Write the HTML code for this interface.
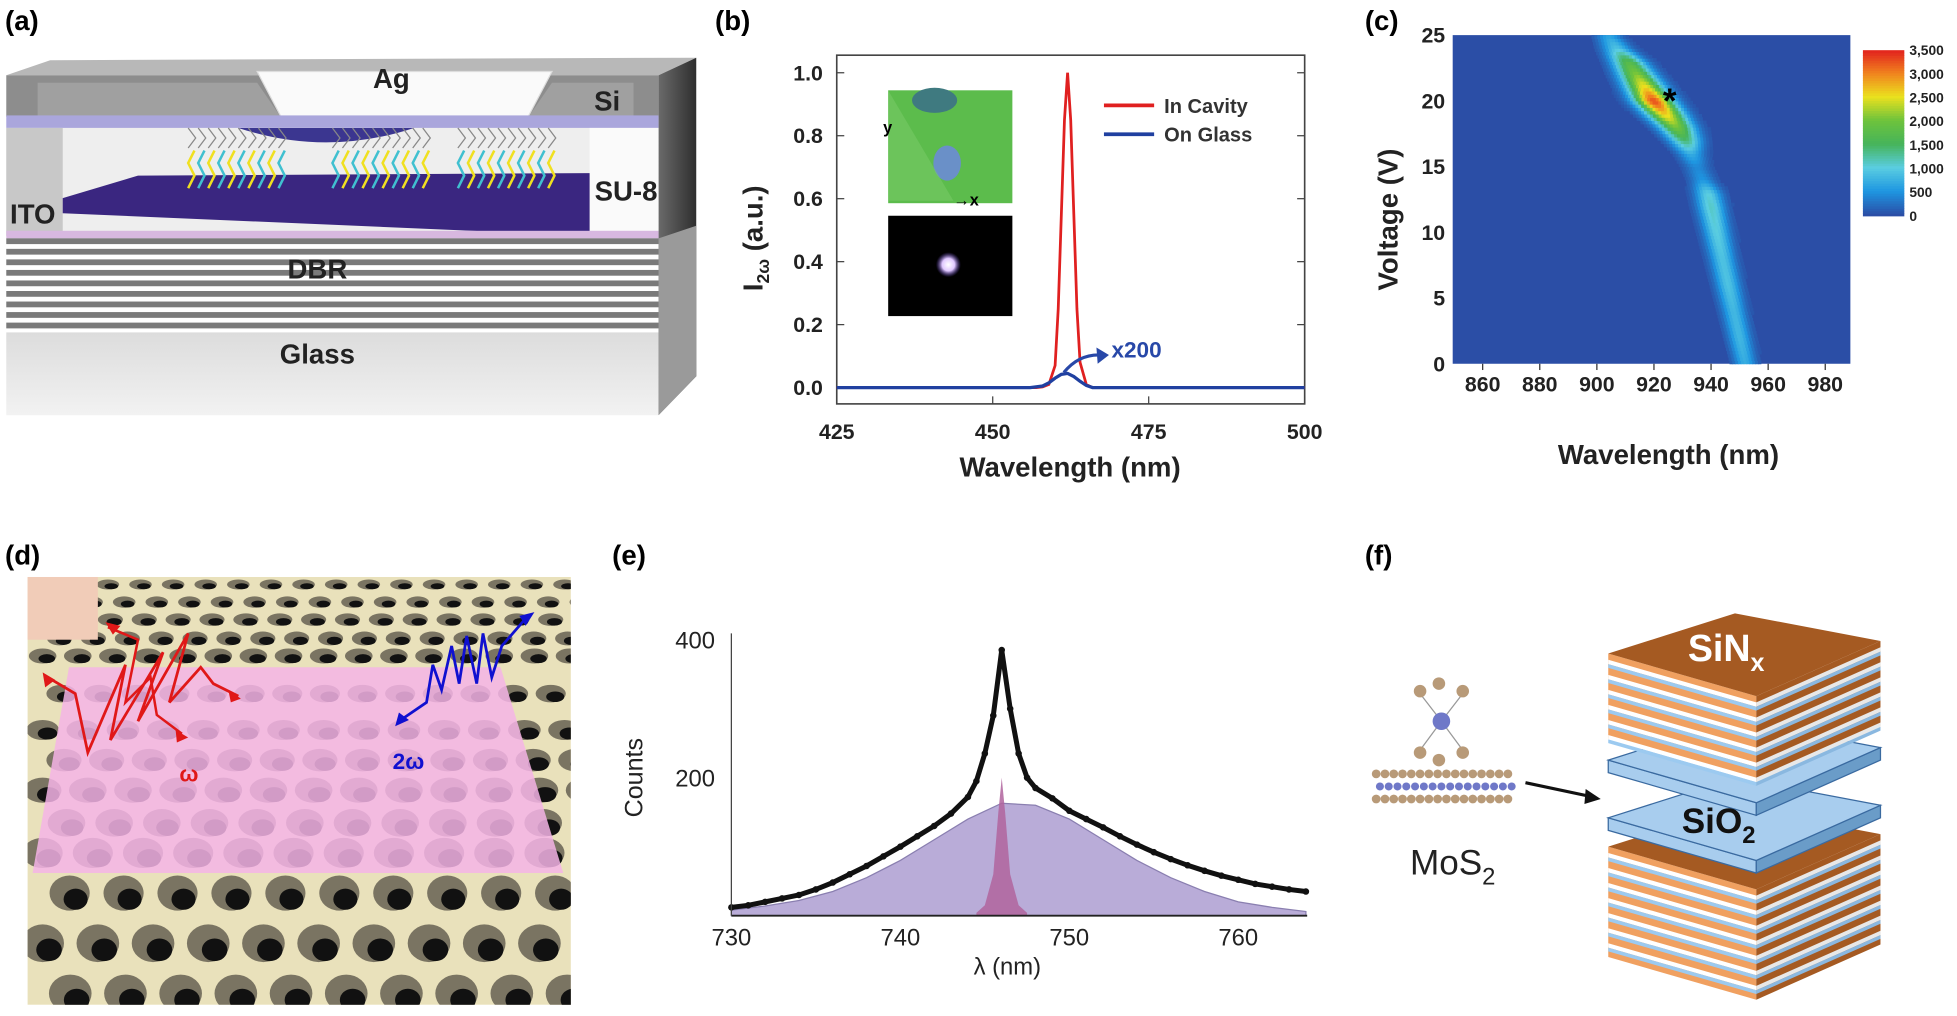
<!DOCTYPE html>
<html><head><meta charset="utf-8"><style>
html,body{margin:0;padding:0;background:#fff;width:1957px;height:1016px;overflow:hidden}
svg{display:block}
text{font-family:"Liberation Sans",Arial,sans-serif}
.pl{font-size:22px;font-weight:bold}
.tk{font-size:17px;font-weight:bold;fill:#222}
.al{font-size:22px;font-weight:bold;fill:#222}
</style></head><body>
<svg id="fig" width="1957" height="1016" viewBox="0 0 1560 810" preserveAspectRatio="none" xmlns="http://www.w3.org/2000/svg">
<defs>
<linearGradient id="sideG" x1="0" x2="1"><stop offset="0" stop-color="#6a6a6a"/><stop offset="1" stop-color="#2e2e2e"/></linearGradient>
<linearGradient id="glassG" x1="0" x2="0" y1="0" y2="1"><stop offset="0" stop-color="#dcdcdc"/><stop offset="1" stop-color="#f2f2f2"/></linearGradient>
<radialGradient id="spot"><stop offset="0" stop-color="#fff"/><stop offset=".5" stop-color="#e0c8ff"/><stop offset="1" stop-color="#6040c0" stop-opacity="0"/></radialGradient>
<clipPath id="dclip"><rect x="22" y="460" width="433" height="341"/></clipPath>
</defs>

<text class="pl" x="4" y="24">(a)</text>
<text class="pl" x="570" y="24">(b)</text>
<text class="pl" x="1088" y="24">(c)</text>
<text class="pl" x="4" y="450">(d)</text>
<text class="pl" x="488" y="450">(e)</text>
<text class="pl" x="1088" y="450">(f)</text>

<!-- panel (a) -->
<g id="pa">
  <polygon points="5,60 40,48 555,46 525,60" fill="#b8b8b8"/>
  <rect x="5" y="60" width="520" height="33" fill="#8d8d8d"/>
  <polygon points="205,57 440,57 420,95 225,95" fill="#fafafa" stroke="#ddd"/>
  <polygon points="30,66 205,66 225,95 30,95" fill="#a0a0a0"/>
  <polygon points="440,66 505,66 505,95 420,95" fill="#a0a0a0"/>
  <rect x="5" y="92" width="520" height="10" fill="#aaa6dc"/>
  <rect x="5" y="102" width="520" height="86" fill="#eeeeee"/>
  <rect x="5" y="102" width="45" height="86" fill="#c8c8c8"/>
  <rect x="470" y="102" width="55" height="86" fill="#fafafa"/>
  <path d="M190,102 Q260,125 330,102Z" fill="#3b3690"/>
  <polygon points="50,158 110,140 470,138 470,188 50,170" fill="#3a2680"/>
  <rect x="5" y="184" width="520" height="6" fill="#d8b8e0"/>
  <g id="dbr"></g>
  <rect x="5" y="265" width="520" height="66" fill="url(#glassG)"/>
  <polygon points="525,60 555,46 555,300 525,331" fill="url(#sideG)"/>
  <polygon points="525,190 555,180 555,300 525,331" fill="#9a9a9a"/>
  <g id="mol"></g>
  <text class="al" x="312" y="70" text-anchor="middle">Ag</text>
  <text class="al" x="484" y="88" text-anchor="middle">Si</text>
  <text class="al" x="474" y="160">SU-8</text>
  <text class="al" x="8" y="178">ITO</text>
  <text class="al" x="253" y="222" text-anchor="middle">DBR</text>
  <text class="al" x="253" y="290" text-anchor="middle">Glass</text>
</g>

<!-- panel (b) -->
<g id="pb">
  <rect x="667" y="44" width="373" height="278" fill="none" stroke="#444" stroke-width="1.3"/>
  <g id="b-ticks"></g>
  <rect x="708" y="72" width="99" height="90" fill="#5cbc4c"/>
  <ellipse cx="745" cy="80" rx="18" ry="10" fill="#3f7a80"/>
  <ellipse cx="755" cy="130" rx="11" ry="14" fill="#6a90c8"/>
  <polygon points="708,72 760,160 708,160" fill="#7ccc6a" opacity=".5"/>
  <text x="704" y="106" font-size="13" font-weight="bold">y</text>
  <text x="760" y="164" font-size="13" font-weight="bold">→x</text>
  <rect x="708" y="172" width="99" height="80" fill="#000"/>
  <circle cx="756" cy="211" r="10" fill="url(#spot)"/>
  <g id="b-series"></g>
  <line x1="880" y1="84" x2="920" y2="84" stroke="#e02020" stroke-width="3"/>
  <text x="928" y="90" font-size="16" font-weight="bold" fill="#333">In Cavity</text>
  <line x1="880" y1="107" x2="920" y2="107" stroke="#2040a0" stroke-width="3"/>
  <text x="928" y="113" font-size="16" font-weight="bold" fill="#333">On Glass</text>
  <path d="M848,297 Q860,282 878,283" fill="none" stroke="#2848a8" stroke-width="2.5"/>
  <polygon points="884,283 874,277 875,290" fill="#2848a8"/>
  <text x="886" y="285" font-size="18" font-weight="bold" fill="#2848a8">x200</text>
  <text class="al" x="853" y="380" text-anchor="middle">Wavelength (nm)</text>
  <text class="al" transform="translate(608,190) rotate(-90)" text-anchor="middle">I<tspan font-size="14" dy="5">2ω</tspan><tspan dy="-5"> (a.u.)</tspan></text>
</g>

<!-- panel (c) -->
<g id="pc">
  <rect x="1158" y="28" width="317" height="262" fill="#2b4ea6"/>
  <g id="c-cells"></g>
  <text x="1331" y="90" font-size="28" font-weight="bold" text-anchor="middle">*</text>
  <g id="c-ticks"></g>
  <g id="c-bar"></g>
  <text class="al" x="1330" y="370" text-anchor="middle">Wavelength (nm)</text>
  <text class="al" transform="translate(1114,175) rotate(-90)" text-anchor="middle">Voltage (V)</text>
</g>

<!-- panel (d) -->
<g id="pd">
  <rect x="22" y="460" width="433" height="341" fill="#e9e1bb"/>
  <g id="holes" clip-path="url(#dclip)"></g>
  <polygon points="55,532 399,532 449,696 26,696" fill="#f4b4e6" opacity=".85"/>
  <rect x="22" y="460" width="56" height="50" fill="#f1ccb8"/>
  <polyline points="38,540 60,553 70,600 100,530 88,590 130,520 110,575 150,505 135,560 160,532 170,545 190,555" fill="none" stroke="#e01818" stroke-width="2.2"/>
  <polyline points="86,500 110,510 100,560 120,540 125,570 145,585" fill="none" stroke="#e01818" stroke-width="2"/>
  <polygon points="34,536 44,542 36,548" fill="#e01818"/><polygon points="84,496 96,499 90,506" fill="#e01818"/><polygon points="192,557 182,550 184,560" fill="#e01818"/><polygon points="150,588 140,582 141,592" fill="#e01818"/>
  <text x="143" y="623" font-size="18" font-weight="bold" fill="#e01818">ω</text>
  <polyline points="318,575 340,560 345,530 352,550 360,515 366,545 372,507 380,545 385,505 392,540 400,515 420,492" fill="none" stroke="#1010d0" stroke-width="2.2"/>
  <polygon points="315,579 318,568 326,574" fill="#1010d0"/><polygon points="426,488 414,491 419,499" fill="#1010d0"/>
  <text x="313" y="613" font-size="18" font-weight="bold" fill="#1010d0">2ω</text>
</g>

<!-- panel (e) -->
<g id="pe">
  <g id="e-series"></g>
  <g id="e-ticks"></g>
  <text x="803" y="777" font-size="19" text-anchor="middle" fill="#222">λ (nm)</text>
  <text transform="translate(512,620) rotate(-90)" font-size="20" text-anchor="middle" fill="#222">Counts</text>
</g>

<!-- panel (f) -->
<g id="pf">
  <g>
    <line x1="1149" y1="575" x2="1132" y2="553" stroke="#999"/><line x1="1149" y1="575" x2="1166" y2="553" stroke="#999"/>
    <line x1="1149" y1="575" x2="1132" y2="598" stroke="#999"/><line x1="1149" y1="575" x2="1166" y2="598" stroke="#999"/>
    <circle cx="1132" cy="551" r="5" fill="#b89a78"/><circle cx="1166" cy="551" r="5" fill="#b89a78"/><circle cx="1147" cy="545" r="5" fill="#b89a78"/>
    <circle cx="1132" cy="600" r="5" fill="#b89a78"/><circle cx="1166" cy="600" r="5" fill="#b89a78"/><circle cx="1147" cy="606" r="5" fill="#b89a78"/>
    <circle cx="1149" cy="575" r="7" fill="#6f78c8"/>
    <g id="mos2layer"></g>
  </g>
  <text x="1158" y="697" font-size="28" text-anchor="middle" fill="#222">MoS<tspan font-size="19" dy="8">2</tspan></text>
  <line x1="1216" y1="624" x2="1268" y2="635" stroke="#111" stroke-width="2.5"/>
  <polygon points="1276,637 1264,629 1263,641" fill="#111"/>
  <g id="stacks"></g>
  <text x="1376" y="527" font-size="30" font-weight="bold" fill="#fff" text-anchor="middle">SiN<tspan font-size="20" dy="8">x</tspan></text>
  <text x="1370" y="664" font-size="28" font-weight="bold" fill="#111" text-anchor="middle">SiO<tspan font-size="19" dy="8">2</tspan></text>
</g>
</svg>

<script>
// ---------- panel (b) data ----------
const bRedX=[425,457,458,459,460,460.5,461,461.5,462,462.5,463,463.5,464,465,466,500];
const bRedY=[0,0,0.002,0.01,0.07,0.25,0.55,0.85,1.0,0.85,0.55,0.25,0.08,0.01,0,0];
const bBlueX=[425,456,458,459,460,461,462,463,464,465,466,500];
const bBlueY=[0,0,0.005,0.015,0.03,0.042,0.045,0.035,0.02,0.007,0,0];
const bXTicks=[425,450,475,500];
const bYTicks=[0.0,0.2,0.4,0.6,0.8,1.0];

// ---------- panel (c) data ----------
const cVolt=[0,2,4,6,8,10,12,13,14,15,16,17,18,19,20,21,22,23,24,25];
const cCenter=[952,950,948,946,944,942,940,939,937,935,933,931,928,924,920,917,914,911,907,904];
const cPeak=[700,800,800,900,900,1000,1100,1000,500,400,700,1400,2000,2600,3300,2600,2100,1700,900,600];
const cSigma=[2.6,2.7,2.8,2.9,3,3.1,3.2,3.2,3,3,3.2,3.8,4.2,4.5,4.5,4.5,4.3,4,3.5,3];
const cXTicks=[860,880,900,920,940,960,980];
const cYTicks=[0,5,10,15,20,25];
const cBarTicks=["0","500","1,000","1,500","2,000","2,500","3,000","3,500"];

// ---------- panel (e) data ----------
const eX=[730,731,732,733,734,735,736,737,738,739,740,741,742,743,744,744.5,745,745.5,746,746.5,747,747.5,748,749,750,751,752,753,754,755,756,757,758,759,760,761,762,763,764];
const eY=[12,15,20,25,30,38,48,60,72,86,100,115,130,148,172,195,235,290,385,300,235,200,185,170,152,140,128,115,103,92,82,73,65,58,52,46,42,38,35];
const eBroadX=[730,732,734,736,738,740,742,744,746,748,750,752,754,756,758,760,762,764];
const eBroadY=[8,14,22,35,55,80,110,140,163,160,140,110,80,55,35,20,12,6];
const eNarrowX=[744.5,745,745.5,745.8,746,746.2,746.5,747,747.5];
const eNarrowY=[4,15,60,150,200,150,60,15,4];
const eXTicks=[730,740,750,760];
const eYTicks=[200,400];

const NS="http://www.w3.org/2000/svg";
function mk(tag,attrs,parent,txt){const e=document.createElementNS(NS,tag);for(const k in attrs)e.setAttribute(k,attrs[k]);if(txt!==undefined)e.textContent=txt;parent.appendChild(e);return e;}

// ----- panel (a) -----
(function(){
  const g=document.getElementById('dbr');
  for(let i=0;i<9;i++){
    const r=mk('rect',{x:5,y:190+i*8.4,width:520,height:4.6,fill:'#7a7a7a'},g);
    
    
  }
  const m=document.getElementById('mol');
  const groups=[[150,230],[265,345],[365,445]];
  groups.forEach(([a,b])=>{
    for(let x=a;x<b;x+=8){
      mk('polyline',{points:`${x},150 ${x+5},140 ${x},130 ${x+5},120`,fill:'none',stroke:(x/8)%2<1?'#f0e020':'#40c0d0','stroke-width':2},m);
      mk('polyline',{points:`${x},118 ${x+6},110 ${x},102`,fill:'none',stroke:'#888','stroke-width':1},m);
    }
  });
})();

// ----- panel (b) -----
(function(){
  const x0=667,x1=1040,y0=309,y1=58;
  const sx=v=>x0+(v-425)/(500-425)*(x1-x0);
  const sy=v=>y0+(v-0)/(1.0-0)*(y1-y0);
  const t=document.getElementById('b-ticks');
  bXTicks.forEach(v=>{
    const l=mk('line',{x1:sx(v),x2:sx(v),y1:322,y2:316,stroke:'#444'},t);
    
    
    const tx=mk('text',{x:sx(v),y:350,class:'tk','text-anchor':'middle'},t,String(v));
    
    
  });
  bYTicks.forEach(v=>{
    mk('line',{x1:667,x2:673,y1:sy(v),y2:sy(v),stroke:'#444'},t);
    mk('line',{x1:1040,x2:1034,y1:sy(v),y2:sy(v),stroke:'#444'},t);
    const tx=mk('text',{x:656,y:sy(v)+6,class:'tk','text-anchor':'end'},t,v.toFixed(1));
    
    
  });
  const s=document.getElementById('b-series');
  const red=mk('polyline',{points:bRedX.map((v,i)=>sx(v)+','+sy(bRedY[i])).join(' '),fill:'none',stroke:'#e02020','stroke-width':2.2},s);
  
  
  const blue=mk('polyline',{points:bBlueX.map((v,i)=>sx(v)+','+sy(bBlueY[i])).join(' '),fill:'none',stroke:'#2040a0','stroke-width':2.6},s);
  
  
})();

// ----- panel (c) -----
(function(){
  const x0=1158,x1=1475,y0=290,y1=28;
  const lmin=849.5,lmax=988.8;
  const sx=v=>x0+(v-lmin)/(lmax-lmin)*(x1-x0);
  const sy=v=>y0+(v-0)/(25-0)*(y1-y0);
  const stops=[[0,[43,78,166]],[500,[30,150,225]],[1000,[90,205,225]],[1500,[70,180,90]],[2000,[110,195,60]],[2500,[235,225,30]],[3000,[240,130,30]],[3500,[225,30,30]]];
  function col(v){v=Math.max(0,Math.min(3500,v));for(let i=1;i<stops.length;i++){if(v<=stops[i][0]){const a=stops[i-1],b=stops[i],f=(v-a[0])/(b[0]-a[0]);return 'rgb('+a[1].map((c,k)=>Math.round(c+(b[1][k]-c)*f)).join(',')+')';}}return 'rgb(225,30,30)';}
  function interp(arr,V){for(let i=1;i<cVolt.length;i++){if(V<=cVolt[i]){const f=(V-cVolt[i-1])/(cVolt[i]-cVolt[i-1]);return arr[i-1]+(arr[i]-arr[i-1])*f;}}return arr[arr.length-1];}
  const g=document.getElementById('c-cells');
  const dV=0.25,dL=1;
  for(let V=0;V<25;V+=dV){
    const vc=V+dV/2,c=interp(cCenter,vc),p=interp(cPeak,vc),s=interp(cSigma,vc);
    for(let L=c-4*s;L<c+4*s;L+=dL){
      const val=p*Math.exp(-0.5*Math.pow((L+dL/2-c)/s,2));
      if(val<60)continue;
      const r=mk('rect',{x:sx(L).toFixed(2),y:sy(V+dV).toFixed(2),width:(sx(L+dL)-sx(L)+0.4).toFixed(2),height:(sy(V)-sy(V+dV)+0.4).toFixed(2),fill:col(val)},g);
      
      
    }
  }
  const t=document.getElementById('c-ticks');
  cXTicks.forEach(v=>{
    mk('line',{x1:sx(v),x2:sx(v),y1:290,y2:295,stroke:'#333'},t);
    const tx=mk('text',{x:sx(v),y:312,class:'tk','text-anchor':'middle','font-size':15},t,String(v));
    
    
  });
  cYTicks.forEach(v=>{
    const tx=mk('text',{x:1152,y:sy(v)+6,class:'tk','text-anchor':'end'},t,String(v));
    
    
  });
  const b=document.getElementById('c-bar');
  const by0=172,by1=40;
  for(let i=0;i<66;i++){
    const v=i/66*3500;
    mk('rect',{x:1485,y:by0-(i+1)*(by0-by1)/66,width:33,height:(by0-by1)/66+0.5,fill:col(v)},b);
  }
  cBarTicks.forEach((s,i)=>{
    const y=by0-i*(by0-by1)/7;
    const tx=mk('text',{x:1522,y:y+4,'font-size':11,'font-weight':'bold',fill:'#222'},b,s);
    
    
  });
})();

// ----- panel (d) holes -----
(function(){
  const g=document.getElementById('holes');
  const rows=[[466,9,4,26],[480,9,4.5,26],[494,10,5,27],[509,10,5.5,27],[523,11,6,28],[553,12,7,30],[582,13,8,32],[606,14,9,34],[630,15,10,36],[656,15,11,38],[680,16,12,40],[712,16,14,43],[752,17,15,44],[792,17,15,44]];
  rows.forEach(([y,rx,ry,sp],j)=>{
    for(let x=34+(j%2)*sp/2;x<470;x+=sp){
      mk('ellipse',{cx:x,cy:y,rx:rx,ry:ry,fill:'#7a7462'},g);
      mk('ellipse',{cx:x+rx*0.3,cy:y+ry*0.35,rx:rx*0.6,ry:ry*0.6,fill:'#111'},g);
    }
  });
})();

// ----- panel (e) -----
(function(){
  const x0=583,y0=730;
  const sx=v=>x0+(v-730)*13.47;
  const sy=v=>y0-v*0.55;
  const s=document.getElementById('e-series');
  const area=(X,Y)=>'M'+sx(X[0])+','+y0+' '+X.map((v,i)=>'L'+sx(v)+','+sy(Y[i])).join(' ')+' L'+sx(X[X.length-1])+','+y0+'Z';
  const br=mk('path',{d:area(eBroadX,eBroadY),fill:'#b9acd8',stroke:'#8a7fb0','stroke-width':1},s);
  
  
  const nr=mk('path',{d:area(eNarrowX,eNarrowY),fill:'#b0649e',opacity:.85},s);
  
  
  const ln=mk('polyline',{points:eX.map((v,i)=>sx(v)+','+sy(eY[i])).join(' '),fill:'none',stroke:'#111','stroke-width':4},s);
  
  
  eX.forEach((v,i)=>{
    const c=mk('circle',{cx:sx(v),cy:sy(eY[i]),r:2.6,fill:'#111'},s);
    
    
  });
  const t=document.getElementById('e-ticks');
  mk('line',{x1:583,x2:1042,y1:730,y2:730,stroke:'#222','stroke-width':1.5},t);
  mk('line',{x1:583,x2:583,y1:505,y2:730,stroke:'#444','stroke-width':1},t);
  eXTicks.forEach(v=>{
    const tx=mk('text',{x:sx(v),y:754,'font-size':19,fill:'#222','text-anchor':'middle'},t,String(v));
    
    
  });
  eYTicks.forEach(v=>{
    const tx=mk('text',{x:570,y:sy(v)+7,'font-size':19,fill:'#222','text-anchor':'end'},t,String(v));
    
    
  });
})();

// ----- panel (f) stacks -----
(function(){
  const ml=document.getElementById('mos2layer');
  for(let x=1097;x<1203;x+=7){
    mk('circle',{cx:x,cy:617,r:3.5,fill:'#b89a78'},ml);
    mk('circle',{cx:x+3,cy:627,r:3.2,fill:'#6f78c8'},ml);
    mk('circle',{cx:x,cy:637,r:3.5,fill:'#b89a78'},ml);
  }
  const g=document.getElementById('stacks');
  const L=1282,F=1400,R=1499,T=1383,w=34;
  function block(top,h,striped,topCol){
    mk('polygon',{points:`${L},${top} ${F},${top+w} ${F},${top+w+h} ${L},${top+h}`,fill:striped?'#f0a060':'#a8cdee',stroke:'#3a6aa0','stroke-width':striped?0:1},g);
    mk('polygon',{points:`${F},${top+w} ${R},${top-10} ${R},${top-10+h} ${F},${top+w+h}`,fill:striped?'#a55a22':'#6a9cc8',stroke:'#3a6aa0','stroke-width':striped?0:1},g);
    if(striped){
      for(let y=5;y<h-2;y+=12){
        mk('polygon',{points:`${L},${top+y} ${F},${top+w+y} ${F},${top+w+y+3.5} ${L},${top+y+3.5}`,fill:'#fff'},g);
        mk('polygon',{points:`${L},${top+y+3.5} ${F},${top+w+y+3.5} ${F},${top+w+y+6.5} ${L},${top+y+6.5}`,fill:'#9ccaf0'},g);
        mk('polygon',{points:`${F},${top+w+y} ${R},${top-10+y} ${R},${top-6.5+y} ${F},${top+w+y+3.5}`,fill:'#e8e8e8'},g);
        mk('polygon',{points:`${F},${top+w+y+3.5} ${R},${top-6.5+y} ${R},${top-3.5+y} ${F},${top+w+y+6.5}`,fill:'#8ab8e0'},g);
      }
    }
    const tp=mk('polygon',{points:`${L},${top} ${T},${top-32} ${R},${top-10} ${F},${top+w}`,fill:topCol,stroke:'#3a6aa0','stroke-width':striped?0:1},g);
    
    
  }
  block(675,88,true,'#a55a22');
  block(652,10,false,'#a8cdee');
  block(606,10,false,'#a8cdee');
  block(521,68,true,'#a55a22');
})();
</script>
</body></html>
